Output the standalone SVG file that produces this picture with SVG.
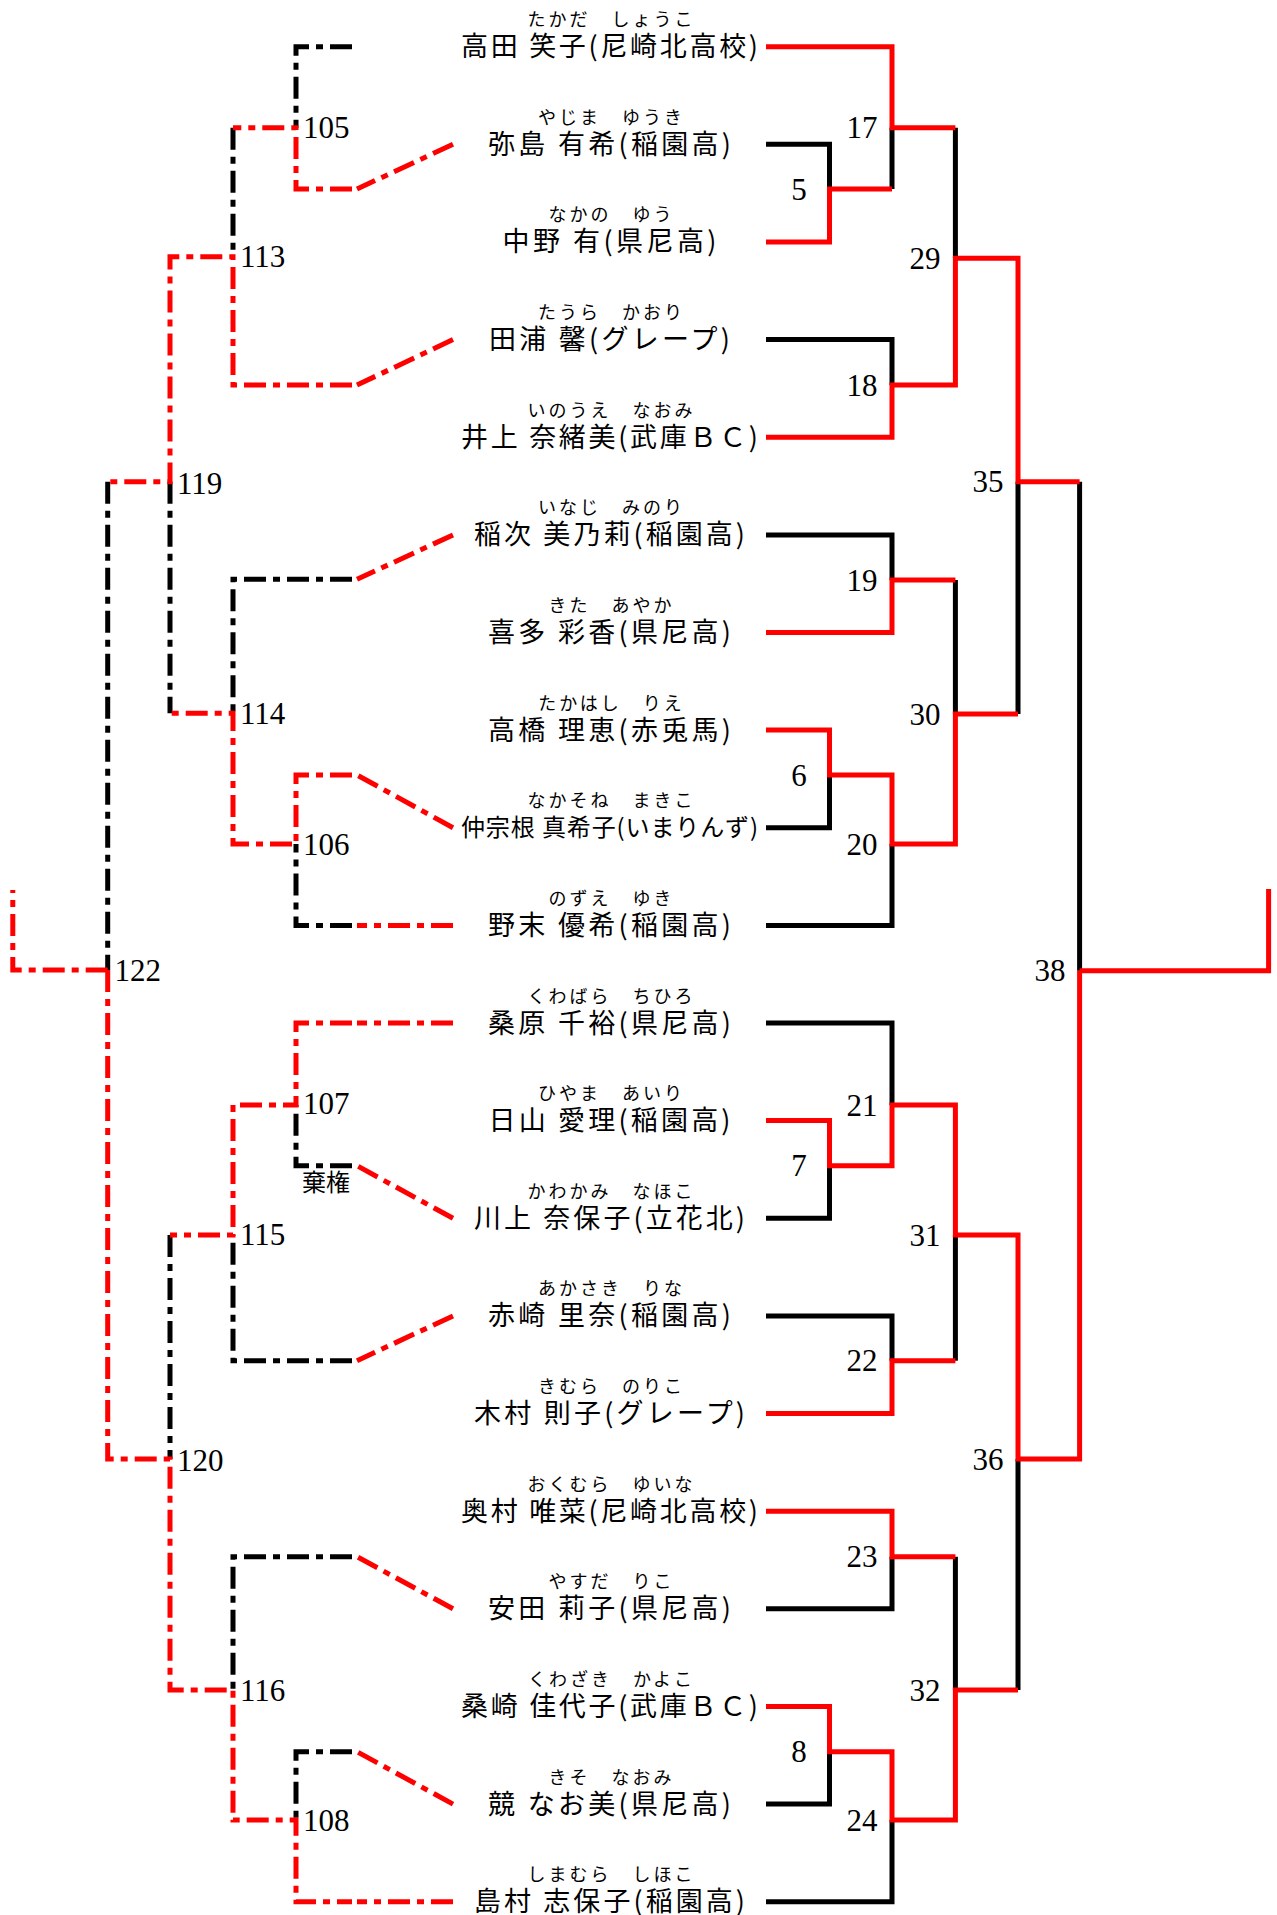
<svg xmlns="http://www.w3.org/2000/svg" width="1277" height="1915" viewBox="0 0 1277 1915">
<style>
.s{fill:none;stroke-width:5;stroke-linejoin:miter}
.r{stroke:#f00}
.k{stroke:#000}
.dd{stroke-dasharray:22 7 7 7}
.lb{font-family:"Liberation Serif",serif;font-size:31px;fill:#000}
.lm{text-anchor:middle}
.nm{font-family:"Noto Sans CJK JP",sans-serif;font-size:27px;text-anchor:middle;fill:#000}
.fu{font-family:"Noto Sans CJK JP",sans-serif;font-size:18px;letter-spacing:3px;text-anchor:middle;fill:#000}
</style>
<rect width="1277" height="1915" fill="#fff"/>
<g id="connectors">
<path class="s k" d="M955.4,127.7V258.3"/>
<path class="s k" d="M766,144.3H829.5V189"/>
<path class="s k" d="M892,189V127.7"/>
<path class="s k" d="M766,339.6H892V385"/>
<path class="s k" d="M1018,481.7V714"/>
<path class="s k" d="M766,534.9H892V580"/>
<path class="s k" d="M955.4,580V714"/>
<path class="s k" d="M766,827.7H829.5V775"/>
<path class="s k" d="M766,925.4H892V844"/>
<path class="s k" d="M1079.6,481.7V970.7"/>
<path class="s k" d="M766,1023H892V1105"/>
<path class="s k" d="M766,1218.3H829.5V1165.7"/>
<path class="s k" d="M955.4,1235V1360.7"/>
<path class="s k" d="M766,1315.9H892V1360.7"/>
<path class="s k" d="M1018,1459V1690"/>
<path class="s k" d="M766,1608.8H892V1556.7"/>
<path class="s k" d="M955.4,1556.7V1690"/>
<path class="s k" d="M766,1804.1H829.5V1751.7"/>
<path class="s k" d="M766,1901.7H892V1820"/>
<path class="s r" d="M766,46.7H892V127.7H955.4"/>
<path class="s r" d="M766,241.9H829.5V189H892"/>
<path class="s r" d="M766,437.2H892V385H955.4V258.3H1018V481.7H1079.6"/>
<path class="s r" d="M766,632.5H892V580H955.4"/>
<path class="s r" d="M766,730.1H829.5V775H892V844H955.4V714H1018"/>
<path class="s r" d="M1079.6,970.7H1268.6V889"/>
<path class="s r" d="M766,1120.6H829.5V1165.7H892V1105H955.4V1235H1018V1459H1079.6V970.7"/>
<path class="s r" d="M766,1413.5H892V1360.7H955.4"/>
<path class="s r" d="M766,1511.2H892V1556.7H955.4"/>
<path class="s r" d="M766,1706.4H829.5V1751.7H892V1820H955.4V1690H1018"/>
<path class="s k dd" d="M352,46.7H296V127.7"/>
<path class="s k dd" d="M233,127.7V256.7"/>
<path class="s k dd" d="M107.7,481.7V970"/>
<path class="s k dd" d="M170,481.7V713.3"/>
<path class="s k dd" d="M352,579.3H233V713.3"/>
<path class="s k dd" d="M352,925.4H296V844"/>
<path class="s k dd" d="M352,1165.7H296V1105"/>
<path class="s k dd" d="M352,1360.7H233V1235"/>
<path class="s k dd" d="M170,1235V1459"/>
<path class="s k dd" d="M352,1556.7H233V1690"/>
<path class="s k dd" d="M352,1751.7H296V1820"/>
<path class="s r dd" d="M352,189H296V127.7H233"/>
<path class="s r dd" d="M352,385H233V256.7H170V481.7H107.7"/>
<path class="s r dd" d="M352,775H296V844H233V713.3H170"/>
<path class="s r dd" d="M107.7,970H12.8V890"/>
<path class="s r dd" d="M107.7,970V1459H170V1690H233V1820H296V1901.7H352"/>
<path class="s r dd" d="M352,1023H296V1105H233V1235H170"/>
<path class="s r dd" d="M453,144.3L357,189"/>
<path class="s r dd" d="M453,339.6L357,385"/>
<path class="s r dd" d="M453,534.9L357,579.3"/>
<path class="s r dd" d="M453,827.7L357,775"/>
<path class="s r dd" d="M453,925.4H357"/>
<path class="s r dd" d="M453,1023H357"/>
<path class="s r dd" d="M453,1218.3L357,1165.7"/>
<path class="s r dd" d="M453,1315.9L357,1360.7"/>
<path class="s r dd" d="M453,1608.8L357,1556.7"/>
<path class="s r dd" d="M453,1804.1L357,1751.7"/>
<path class="s r dd" d="M453,1901.7H357"/>
</g>
<g id="match-labels">
<g id="m5"><text class="lb lm" x="799" y="199.5">5</text></g>
<g id="m6"><text class="lb lm" x="799" y="785.5">6</text></g>
<g id="m7"><text class="lb lm" x="799" y="1176.2">7</text></g>
<g id="m8"><text class="lb lm" x="799" y="1762.2">8</text></g>
<g id="m17"><text class="lb lm" x="862" y="138.2">17</text></g>
<g id="m18"><text class="lb lm" x="862" y="395.5">18</text></g>
<g id="m19"><text class="lb lm" x="862" y="590.5">19</text></g>
<g id="m20"><text class="lb lm" x="862" y="854.5">20</text></g>
<g id="m21"><text class="lb lm" x="862" y="1115.5">21</text></g>
<g id="m22"><text class="lb lm" x="862" y="1371.2">22</text></g>
<g id="m23"><text class="lb lm" x="862" y="1567.2">23</text></g>
<g id="m24"><text class="lb lm" x="862" y="1830.5">24</text></g>
<g id="m29"><text class="lb lm" x="925" y="268.8">29</text></g>
<g id="m30"><text class="lb lm" x="925" y="724.5">30</text></g>
<g id="m31"><text class="lb lm" x="925" y="1245.5">31</text></g>
<g id="m32"><text class="lb lm" x="925" y="1700.5">32</text></g>
<g id="m35"><text class="lb lm" x="988" y="492.2">35</text></g>
<g id="m36"><text class="lb lm" x="988" y="1469.5">36</text></g>
<g id="m38"><text class="lb lm" x="1050" y="981.2">38</text></g>
<g id="m105"><text class="lb" x="303" y="138.2">105</text></g>
<g id="m106"><text class="lb" x="303" y="854.5">106</text></g>
<g id="m107"><text class="lb" x="303" y="1113.5">107</text></g>
<g id="m108"><text class="lb" x="303" y="1830.5">108</text></g>
<g id="m113"><text class="lb" x="240" y="267.2">113</text></g>
<g id="m114"><text class="lb" x="240" y="723.8">114</text></g>
<g id="m115"><text class="lb" x="240" y="1244.5">115</text></g>
<g id="m116"><text class="lb" x="240" y="1700.5">116</text></g>
<g id="m119"><text class="lb" x="177" y="493.5">119</text></g>
<g id="m120"><text class="lb" x="177" y="1470.5">120</text></g>
<g id="m122"><text class="lb" x="114.5" y="980.5">122</text></g>
<g id="forfeit"><text x="302" y="1191" style="font-family:'Noto Sans CJK JP',sans-serif;font-size:24px">棄権</text></g>
</g>
<g id="players">
<g id="p0"><text class="fu" x="611.5" y="26.2">たかだ　しょうこ</text><text class="nm" x="609.5" y="56.2" textLength="297">高田 笑子(尼崎北高校)</text></g>
<g id="p1"><text class="fu" x="611.5" y="123.8">やじま　ゆうき</text><text class="nm" x="609.5" y="153.8" textLength="243">弥島 有希(稲園高)</text></g>
<g id="p2"><text class="fu" x="611.5" y="221.4">なかの　ゆう</text><text class="nm" x="609.5" y="251.4" textLength="214">中野 有(県尼高)</text></g>
<g id="p3"><text class="fu" x="611.5" y="319.1">たうら　かおり</text><text class="nm" x="609.5" y="349.1" textLength="241">田浦 馨(グレープ)</text></g>
<g id="p4"><text class="fu" x="611.5" y="416.7">いのうえ　なおみ</text><text class="nm" x="609.5" y="446.7" textLength="297">井上 奈緒美(武庫ＢＣ)</text></g>
<g id="p5"><text class="fu" x="611.5" y="514.4">いなじ　みのり</text><text class="nm" x="609.5" y="544.4" textLength="271">稲次 美乃莉(稲園高)</text></g>
<g id="p6"><text class="fu" x="611.5" y="612">きた　あやか</text><text class="nm" x="609.5" y="642" textLength="243">喜多 彩香(県尼高)</text></g>
<g id="p7"><text class="fu" x="611.5" y="709.6">たかはし　りえ</text><text class="nm" x="609.5" y="739.6" textLength="243">高橋 理恵(赤兎馬)</text></g>
<g id="p8"><text class="fu" x="611.5" y="807.2">なかそね　まきこ</text><text class="nm" x="609.5" y="836.2" textLength="297" style="font-size:24px">仲宗根 真希子(いまりんず)</text></g>
<g id="p9"><text class="fu" x="611.5" y="904.9">のずえ　ゆき</text><text class="nm" x="609.5" y="934.9" textLength="243">野末 優希(稲園高)</text></g>
<g id="p10"><text class="fu" x="611.5" y="1002.5">くわばら　ちひろ</text><text class="nm" x="609.5" y="1032.5" textLength="243">桑原 千裕(県尼高)</text></g>
<g id="p11"><text class="fu" x="611.5" y="1100.1">ひやま　あいり</text><text class="nm" x="609.5" y="1130.1" textLength="242">日山 愛理(稲園高)</text></g>
<g id="p12"><text class="fu" x="611.5" y="1197.8">かわかみ　なほこ</text><text class="nm" x="609.5" y="1227.8" textLength="271">川上 奈保子(立花北)</text></g>
<g id="p13"><text class="fu" x="611.5" y="1295.4">あかさき　りな</text><text class="nm" x="609.5" y="1325.4" textLength="243">赤崎 里奈(稲園高)</text></g>
<g id="p14"><text class="fu" x="611.5" y="1393">きむら　のりこ</text><text class="nm" x="609.5" y="1423" textLength="271">木村 則子(グレープ)</text></g>
<g id="p15"><text class="fu" x="611.5" y="1490.7">おくむら　ゆいな</text><text class="nm" x="609.5" y="1520.7" textLength="297">奥村 唯菜(尼崎北高校)</text></g>
<g id="p16"><text class="fu" x="611.5" y="1588.3">やすだ　りこ</text><text class="nm" x="609.5" y="1618.3" textLength="243">安田 莉子(県尼高)</text></g>
<g id="p17"><text class="fu" x="611.5" y="1685.9">くわざき　かよこ</text><text class="nm" x="609.5" y="1715.9" textLength="297">桑崎 佳代子(武庫ＢＣ)</text></g>
<g id="p18"><text class="fu" x="611.5" y="1783.6">きそ　なおみ</text><text class="nm" x="609.5" y="1813.6" textLength="243">競 なお美(県尼高)</text></g>
<g id="p19"><text class="fu" x="611.5" y="1881.2">しまむら　しほこ</text><text class="nm" x="609.5" y="1911.2" textLength="271">島村 志保子(稲園高)</text></g>
</g>
</svg>
